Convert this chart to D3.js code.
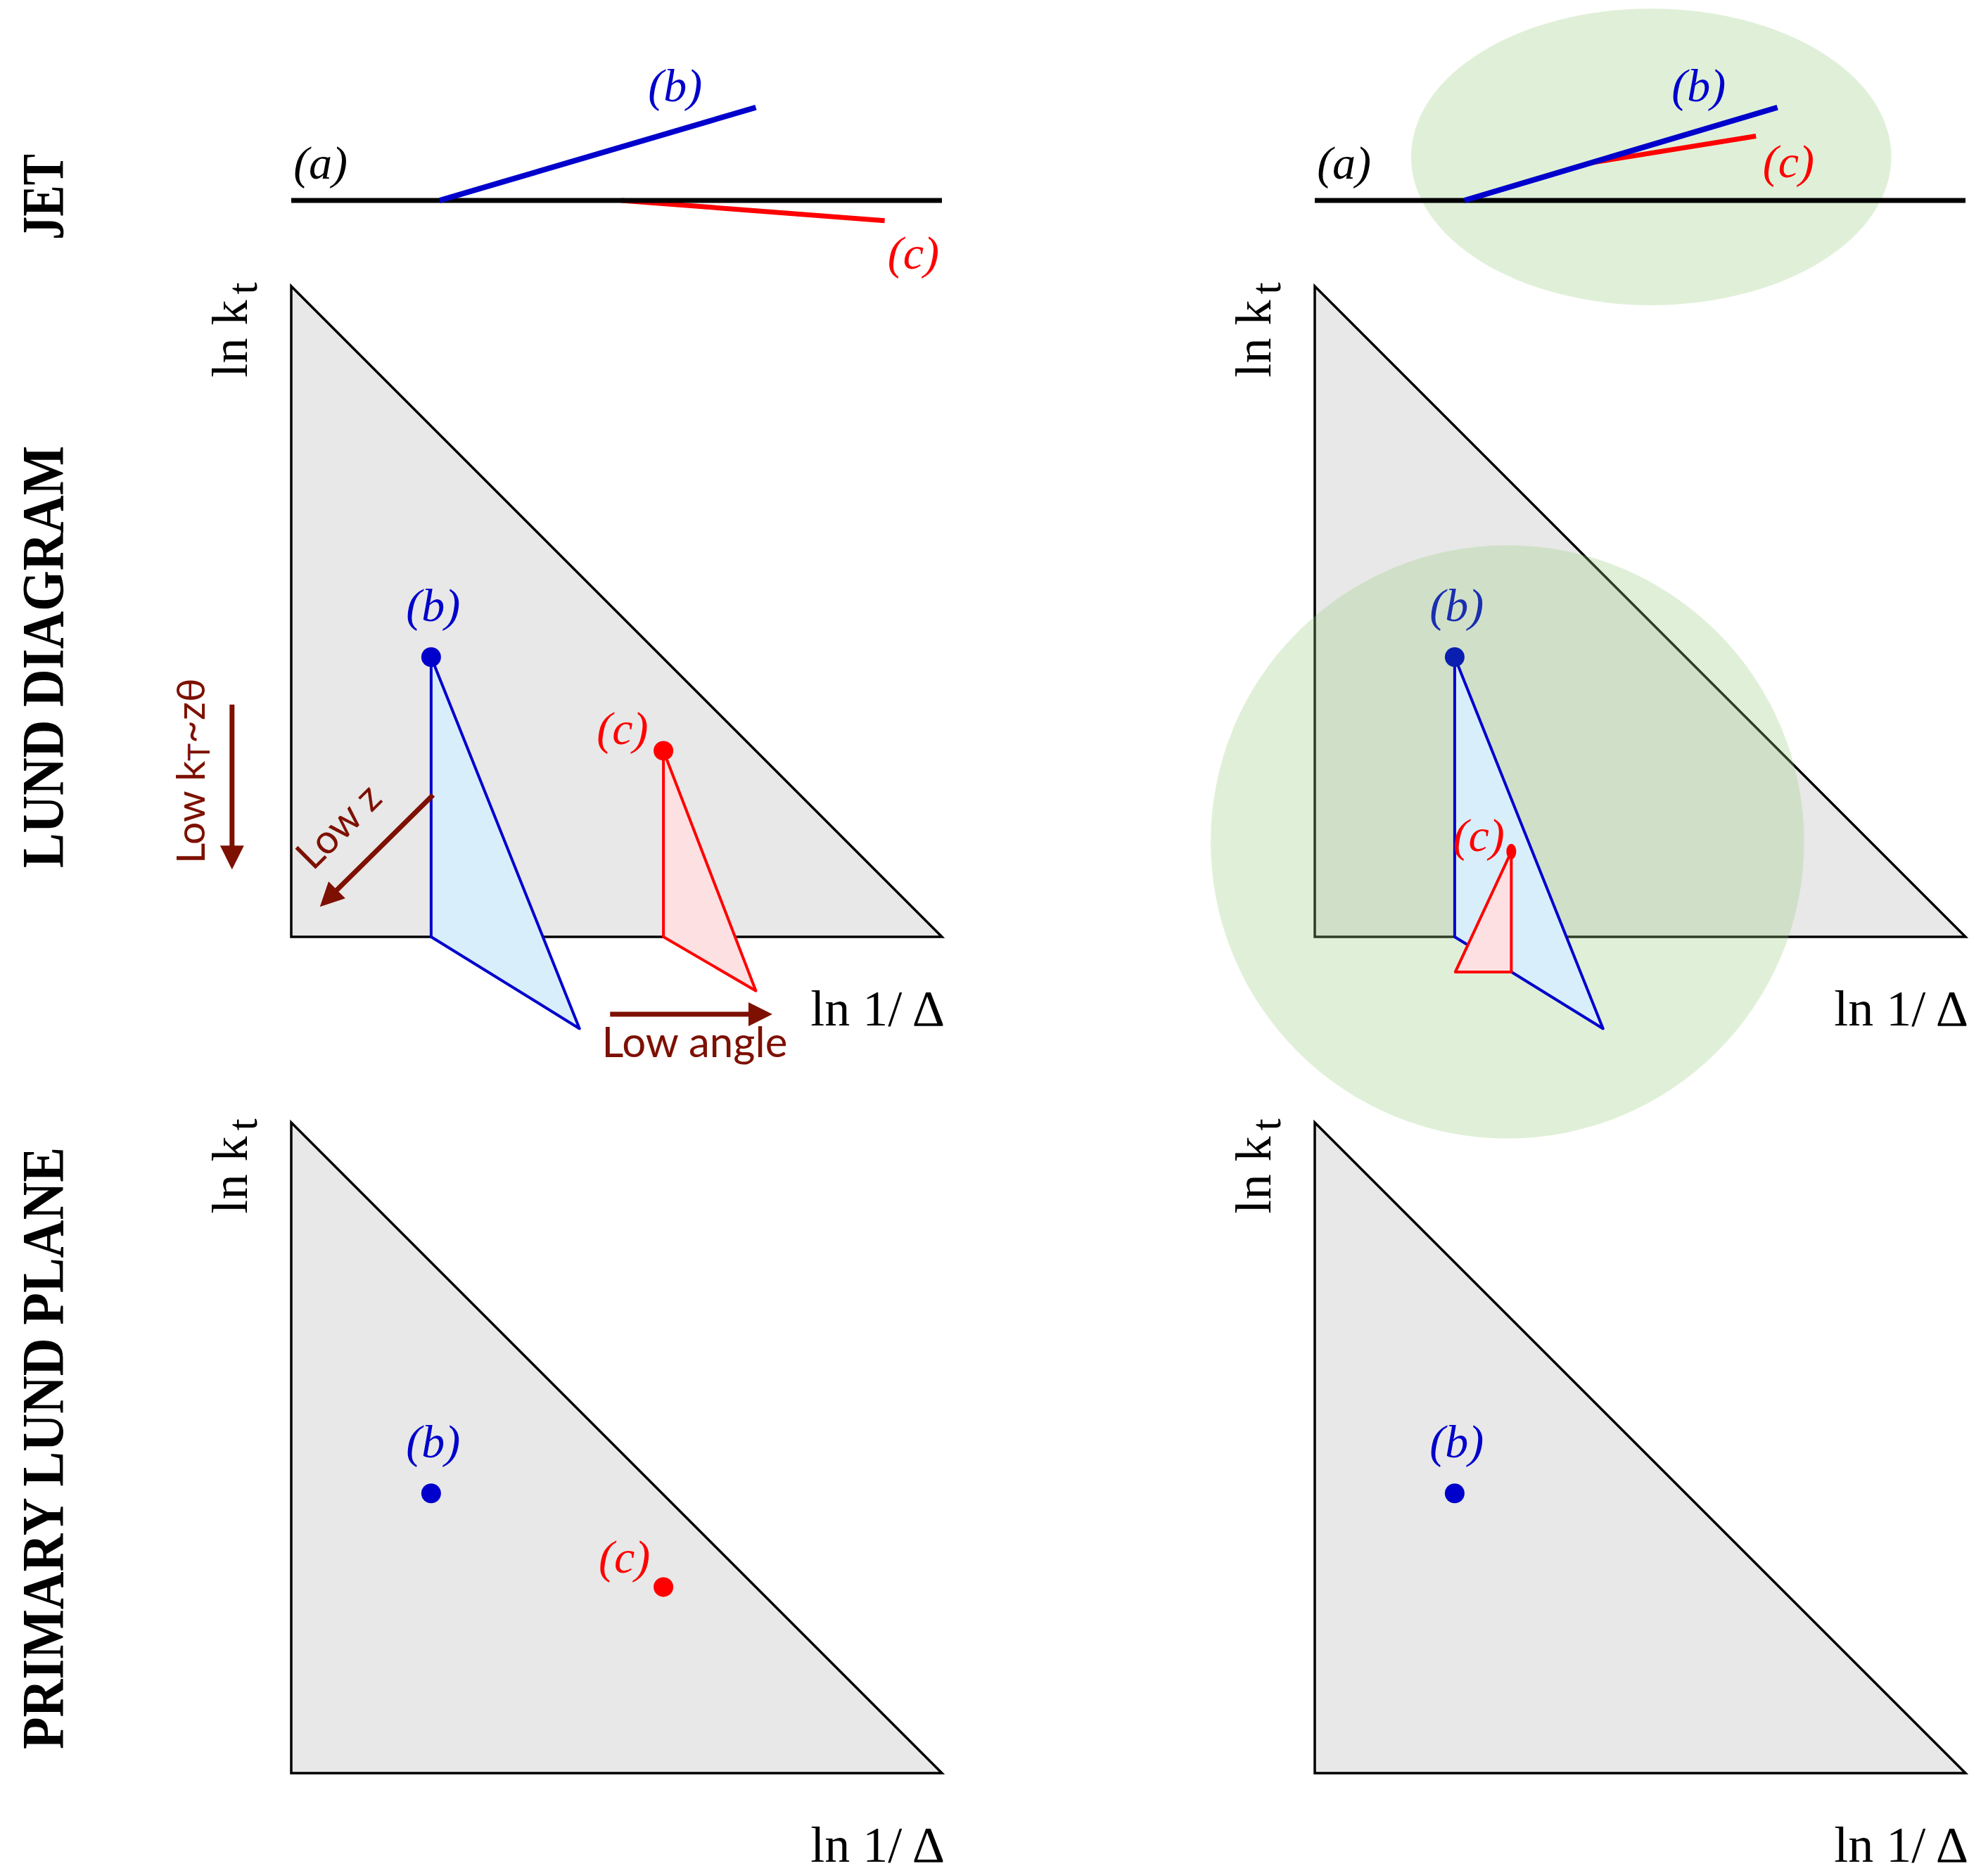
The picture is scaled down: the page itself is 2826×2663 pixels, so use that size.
<!DOCTYPE html>
<html>
<head>
<meta charset="utf-8">
<script src="https://cdn.jsdelivr.net/npm/d3@7"></script>
<style>
  body { margin: 0; background: #fff; }
</style>
</head>
<body>
<svg id="fig"></svg>
<script>
// row titles
const rowTitles = ['JET', 'LUND DIAGRAM', 'PRIMARY LUND PLANE'];

// Lund plane: ln 1/Δ and ln kt both run 0..10
const planeEdge = [[0, 0], [0, 10], [10, 0]];

// jet row (x along the jet axis, y = opening)
const jetAxis = [[0, 0], [10, 0]];
const jetLeftB = [[2.28, 0], [7.14, 1.43]];
const jetLeftC = [[5.07, 0], [9.12, -0.31]];
const jetRightB = [[2.30, 0], [7.11, 1.43]];
const jetRightC = [[4.25, 0.58], [6.78, 0.99]];
const jetLabelA = [0.45, 0.58];
const jetLeftLabels = [[5.90, 1.77], [9.56, -0.81]];
const jetRightLabels = [[5.90, 1.77], [7.28, 0.60]];
const jetCluster = [5.17, 0.67, 3.69, 2.28]; // cx, cy, rx, ry

// emissions (ln 1/Δ, ln kt)
const emitLeftB = [2.15, 4.30];
const emitLeftC = [5.72, 2.86];
const emitRightB = [2.15, 4.30];
const emitRightC = [3.02, 1.31];

// secondary leaves hanging from each emission
const leafLeftB = [[2.15, 4.30], [2.15, 0], [4.43, -1.41]];
const leafLeftC = [[5.72, 2.86], [5.72, 0], [7.14, -0.83]];
const leafRightB = [[2.15, 4.30], [2.15, 0], [4.43, -1.41]];
const leafRightC = [[3.02, 1.31], [3.02, -0.54], [2.16, -0.54]];

// clustering region on the right Lund diagram: cx, cy, r
const lundCluster = [2.96, 1.46, 4.56];

// annotation arrows (from, to)
const arrowLowKt = [[-0.91, 3.57], [-0.91, 1.33]];
const arrowLowZ = [[2.18, 2.18], [0.65, 0.67]];
const arrowLowAngle = [[4.90, -1.19], [7.10, -1.19]];

const BLUE = '#0000cc', RED = '#ff0000', DARKRED = '#7d1000';
const SERIF = '"Liberation Serif", "Times New Roman", serif';
const SANS = 'Lato, "Noto Sans", sans-serif';

const width = 2826, height = 2663;
const svg = d3.select('#fig').attr('width', width).attr('height', height);
svg.append('rect').attr('width', width).attr('height', height).attr('fill', '#fff');

const defs = svg.append('defs');
defs.append('marker')
  .attr('id', 'head')
  .attr('viewBox', '0 0 10 10')
  .attr('refX', 2).attr('refY', 5)
  .attr('markerUnits', 'userSpaceOnUse')
  .attr('markerWidth', 44).attr('markerHeight', 34)
  .attr('orient', 'auto')
  .append('path').attr('d', 'M0,0 L10,5 L0,10 Z').attr('fill', DARKRED);

const side = 925;
const cols = [414, 1869];
const jetBase = 285;
const rowBottoms = [1332, 2521];

function scales(x0, yBottom, unit) {
  const x = d3.scaleLinear().domain([0, 10]).range([x0, x0 + side]);
  const y = d3.scaleLinear().domain([0, 10]).range([yBottom, yBottom - (unit || side)]);
  return { x, y };
}

function lineOf(s) {
  return d3.line().x(d => s.x(d[0])).y(d => s.y(d[1]));
}

function italicLabel(g, s, pos, txt, color) {
  g.append('text')
    .attr('x', s.x(pos[0])).attr('y', s.y(pos[1]))
    .attr('text-anchor', 'middle')
    .attr('dominant-baseline', 'central')
    .attr('font-family', SERIF).attr('font-style', 'italic')
    .attr('font-size', 66).attr('fill', color)
    .text(txt);
}

// ---- row titles ----
const titleY = [280, 934, 2059];
const titleLen = [122, 600, 856];
rowTitles.forEach((t, i) => {
  svg.append('text')
    .attr('transform', `translate(90,${titleY[i]}) rotate(-90)`)
    .attr('text-anchor', 'middle')
    .attr('font-family', SERIF).attr('font-weight', 'bold')
    .attr('font-size', 84)
    .attr('textLength', titleLen[i]).attr('lengthAdjust', 'spacingAndGlyphs')
    .text(t);
});

// ---- jet row ----
function jetPanel(x0, bLine, cLine, labels, cluster) {
  const s = scales(x0, jetBase, side);
  const g = svg.append('g');
  if (cluster) {
    g.append('ellipse')
      .attr('cx', s.x(cluster[0])).attr('cy', s.y(cluster[1]))
      .attr('rx', s.x(cluster[2]) - s.x(0)).attr('ry', s.y(0) - s.y(cluster[3]))
      .attr('fill', 'rgb(153,206,127)').attr('fill-opacity', 0.3);
  }
  g.append('path').datum(cLine).attr('d', lineOf(s))
    .attr('stroke', RED).attr('stroke-width', 7).attr('fill', 'none');
  g.append('path').datum(jetAxis).attr('d', lineOf(s))
    .attr('stroke', '#000').attr('stroke-width', 7).attr('fill', 'none');
  g.append('path').datum(bLine).attr('d', lineOf(s))
    .attr('stroke', BLUE).attr('stroke-width', 8).attr('fill', 'none');
  italicLabel(g, s, jetLabelA, '(a)', '#000');
  italicLabel(g, s, labels[0], '(b)', BLUE);
  italicLabel(g, s, labels[1], '(c)', RED);
}
jetPanel(cols[0], jetLeftB, jetLeftC, jetLeftLabels, null);
jetPanel(cols[1], jetRightB, jetRightC, jetRightLabels, jetCluster);

// ---- Lund planes ----
function plane(x0, yBottom) {
  const s = scales(x0, yBottom);
  const g = svg.append('g');
  g.append('path').datum(planeEdge)
    .attr('d', lineOf(s).curve(d3.curveLinearClosed))
    .attr('fill', '#e8e8e8').attr('stroke', '#000').attr('stroke-width', 3.5)
    .attr('stroke-linejoin', 'miter');
  // ln kt
  const kt = g.append('text')
    .attr('transform', `translate(${x0 - 63},${yBottom - side + 62}) rotate(-90)`)
    .attr('text-anchor', 'middle')
    .attr('font-family', SERIF).attr('font-size', 72);
  kt.append('tspan').text('ln k');
  kt.append('tspan').attr('dx', 8).attr('dy', 14).attr('font-size', 62).text('t');
  // ln 1/Δ
  g.append('text')
    .attr('x', x0 + side + 4).attr('y', yBottom + 126)
    .attr('text-anchor', 'end')
    .attr('font-family', SERIF).attr('font-size', 72)
    .text('ln 1/\u2009\u0394');
  return { s, g };
}

function dot(g, s, p, color, rx, ry) {
  g.append('ellipse')
    .attr('cx', s.x(p[0])).attr('cy', s.y(p[1]))
    .attr('rx', rx || 14).attr('ry', ry || 14)
    .attr('fill', color);
}

function leaf(g, s, pts, stroke, fill) {
  g.append('path').datum(pts)
    .attr('d', lineOf(s).curve(d3.curveLinearClosed))
    .attr('fill', fill).attr('stroke', stroke).attr('stroke-width', 4)
    .attr('stroke-linejoin', 'round');
}

function arrow(g, s, pts) {
  g.append('path').datum(pts).attr('d', lineOf(s))
    .attr('stroke', DARKRED).attr('stroke-width', 7).attr('fill', 'none')
    .attr('marker-end', 'url(#head)');
}

// Lund diagram, left
{
  const { s, g } = plane(cols[0], rowBottoms[0]);
  leaf(g, s, leafLeftB, BLUE, '#d9eefb');
  leaf(g, s, leafLeftC, RED, '#fde0e2');
  dot(g, s, emitLeftB, BLUE);
  dot(g, s, emitLeftC, RED);
  italicLabel(g, s, [emitLeftB[0] + 0.03, emitLeftB[1] + 0.80], '(b)', BLUE);
  italicLabel(g, s, [emitLeftC[0] - 0.63, emitLeftC[1] + 0.35], '(c)', RED);

  arrow(g, s, arrowLowKt);
  arrow(g, s, arrowLowZ);
  arrow(g, s, arrowLowAngle);

  const t1 = g.append('text')
    .attr('transform', `translate(${s.x(-1.33)},${s.y(2.55)}) rotate(-90)`)
    .attr('text-anchor', 'middle')
    .attr('font-family', SANS).attr('font-size', 57).attr('fill', DARKRED);
  t1.append('tspan').text('Low k');
  t1.append('tspan').attr('font-size', 42).attr('dy', 7).text('T');
  t1.append('tspan').attr('dy', -7).text('~z\u03b8');

  g.append('text')
    .attr('transform', `translate(${s.x(0.88)},${s.y(1.55)}) rotate(-45)`)
    .attr('text-anchor', 'middle')
    .attr('font-family', SANS).attr('font-size', 57).attr('fill', DARKRED)
    .text('Low z');

  g.append('text')
    .attr('x', s.x(6.2)).attr('y', s.y(-1.85))
    .attr('text-anchor', 'middle')
    .attr('font-family', SANS).attr('font-size', 60).attr('fill', DARKRED)
    .text('Low angle');
}

// Lund diagram, right (with clustering region)
{
  const { s, g } = plane(cols[1], rowBottoms[0]);
  g.append('circle')
    .attr('cx', s.x(lundCluster[0])).attr('cy', s.y(lundCluster[1]))
    .attr('r', s.x(lundCluster[2]) - s.x(0))
    .attr('fill', 'rgb(153,206,127)').attr('fill-opacity', 0.3);
  leaf(g, s, leafRightB, BLUE, '#d9eefb');
  leaf(g, s, leafRightC, RED, '#fde0e2');
  dot(g, s, emitRightB, '#0a1fb0');
  dot(g, s, emitRightC, RED, 7, 11);
  italicLabel(g, s, [emitRightB[0] + 0.03, emitRightB[1] + 0.80], '(b)', '#1a2fb0');
  italicLabel(g, s, [emitRightC[0] - 0.50, emitRightC[1] + 0.25], '(c)', RED);
}

// primary Lund planes
{
  const { s, g } = plane(cols[0], rowBottoms[1]);
  dot(g, s, emitLeftB, BLUE);
  dot(g, s, emitLeftC, RED);
  italicLabel(g, s, [emitLeftB[0] + 0.03, emitLeftB[1] + 0.80], '(b)', BLUE);
  italicLabel(g, s, [emitLeftC[0] - 0.60, emitLeftC[1] + 0.46], '(c)', RED);
}
{
  const { s, g } = plane(cols[1], rowBottoms[1]);
  dot(g, s, emitRightB, BLUE);
  italicLabel(g, s, [emitRightB[0] + 0.03, emitRightB[1] + 0.80], '(b)', BLUE);
}
</script>
</body>
</html>
